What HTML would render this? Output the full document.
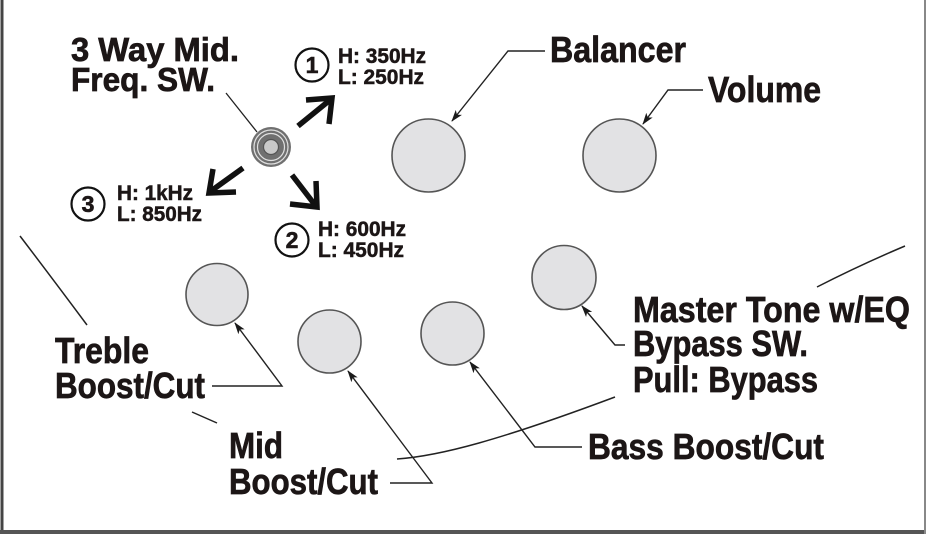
<!DOCTYPE html>
<html><head><meta charset="utf-8"><style>
html,body{margin:0;padding:0;background:#fff;}
svg{display:block;}
text{font-family:"Liberation Sans Narrow","Liberation Sans",sans-serif;font-weight:bold;fill:#1c1616;stroke:#1c1616;}
</style></head><body>
<svg width="926" height="534" viewBox="0 0 926 534" xmlns="http://www.w3.org/2000/svg">
<defs>
<marker id="ah" markerWidth="12" markerHeight="8" refX="11" refY="4" orient="auto" markerUnits="userSpaceOnUse">
<path d="M0,0 L12,4 L0,8 L3,4 Z" fill="#1a1a1a"/>
</marker>
</defs>
<rect x="0" y="0" width="926" height="534" fill="#fff"/>
<!-- border -->
<line x1="2" y1="0" x2="2" y2="534" stroke="#444" stroke-width="3"/>
<line x1="0" y1="532" x2="926" y2="532" stroke="#555" stroke-width="4"/>
<line x1="925" y1="0" x2="925" y2="534" stroke="#888" stroke-width="2"/>

<!-- body outline arcs -->
<g fill="none" stroke="#222" stroke-width="1.5">
<path d="M20,236 Q52,278 87,325"/>
<path d="M192,412 L217,423"/>
<path d="M397,459 C440,456 500,440 615,397"/>
<path d="M817,287 Q860,265 905,246"/>
</g>

<!-- knobs -->
<g fill="#e2e2e4" stroke="#555" stroke-width="1.6">
<circle cx="428.5" cy="155.5" r="36.5"/>
<circle cx="619.5" cy="155.5" r="36.5"/>
<circle cx="217" cy="294.5" r="31"/>
<circle cx="329.5" cy="341.5" r="31.5"/>
<circle cx="452.5" cy="333.5" r="31.5"/>
<circle cx="564" cy="277.5" r="32"/>
</g>

<!-- 3-way switch -->
<line x1="226" y1="93" x2="257" y2="132" stroke="#222" stroke-width="1.3"/>
<circle cx="271" cy="147" r="20" fill="#707070"/>
<circle cx="271" cy="147" r="17" fill="none" stroke="#e0e0e0" stroke-width="1.2"/>
<circle cx="271" cy="147" r="13.5" fill="none" stroke="#e0e0e0" stroke-width="1.2"/>
<circle cx="271" cy="147" r="7.5" fill="#c9c9c9" stroke="#555" stroke-width="1.2"/>

<!-- thick arrows -->
<g fill="none" stroke="#111" stroke-width="5.5" stroke-linejoin="miter">
<line x1="298" y1="126" x2="330" y2="100"/>
<polyline points="306,100 332,98 329,124"/>
<line x1="243" y1="168" x2="211" y2="191"/>
<polyline points="213,169 209,193 236,192"/>
<line x1="292" y1="175" x2="315" y2="205"/>
<polyline points="316,181 317,207 290,204"/>
</g>

<!-- circled numbers -->
<g fill="#fff" stroke="#111" stroke-width="2.2">
<circle cx="312" cy="65" r="16.5"/>
<circle cx="88" cy="204" r="16.5"/>
<circle cx="292" cy="240" r="16.5"/>
</g>
<g stroke-width="0.6">
<text x="312" y="73" font-size="23" text-anchor="middle">1</text>
<text x="88" y="212" font-size="23" text-anchor="middle">3</text>
<text x="292" y="248" font-size="23" text-anchor="middle">2</text>
</g>

<!-- freq labels -->
<g font-size="21" stroke-width="0.5">
<text x="338" y="63" textLength="88" lengthAdjust="spacingAndGlyphs">H: 350Hz</text>
<text x="338" y="84" textLength="86" lengthAdjust="spacingAndGlyphs">L: 250Hz</text>
<text x="117" y="200" textLength="76" lengthAdjust="spacingAndGlyphs">H: 1kHz</text>
<text x="117" y="221" textLength="85" lengthAdjust="spacingAndGlyphs">L: 850Hz</text>
<text x="318" y="236" textLength="88" lengthAdjust="spacingAndGlyphs">H: 600Hz</text>
<text x="318" y="257" textLength="86" lengthAdjust="spacingAndGlyphs">L: 450Hz</text>
</g>

<!-- main labels -->
<g font-size="33" stroke-width="0.7">
<text x="71" y="61" textLength="168" lengthAdjust="spacingAndGlyphs">3 Way Mid.</text>
<text x="71" y="91" textLength="144" lengthAdjust="spacingAndGlyphs">Freq. SW.</text>
</g>
<g font-size="36.5" stroke-width="0.7">
<text x="550" y="62" textLength="136" lengthAdjust="spacingAndGlyphs">Balancer</text>
<text x="708" y="102" textLength="113" lengthAdjust="spacingAndGlyphs">Volume</text>
<text x="55" y="363" textLength="94" lengthAdjust="spacingAndGlyphs">Treble</text>
<text x="55" y="398" textLength="150" lengthAdjust="spacingAndGlyphs">Boost/Cut</text>
<text x="229" y="458" textLength="54" lengthAdjust="spacingAndGlyphs">Mid</text>
<text x="229" y="494" textLength="149" lengthAdjust="spacingAndGlyphs">Boost/Cut</text>
<text x="633" y="322" textLength="277" lengthAdjust="spacingAndGlyphs">Master Tone w/EQ</text>
<text x="633" y="356" textLength="175" lengthAdjust="spacingAndGlyphs">Bypass SW.</text>
<text x="633" y="392" textLength="185" lengthAdjust="spacingAndGlyphs">Pull: Bypass</text>
<text x="588" y="459" textLength="236" lengthAdjust="spacingAndGlyphs">Bass Boost/Cut</text>
</g>

<!-- leader lines -->
<g fill="none" stroke="#222" stroke-width="1.4" marker-end="url(#ah)">
<polyline points="545,51 508,51 452,121"/>
<polyline points="703,90 668,90 643,124"/>
<polyline points="212,386 282,386 235,323"/>
<polyline points="390,483 432,483 348,371"/>
<polyline points="625,345 615,345 582,306"/>
<polyline points="582,447 535,447 470,362"/>
</g>
</svg>
</body></html>
